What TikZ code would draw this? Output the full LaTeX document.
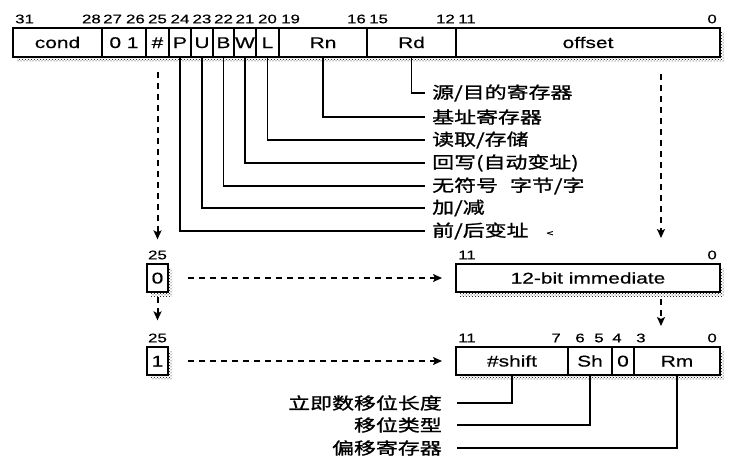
\documentclass[tikz,border=0pt]{standalone}
\usepackage{fontspec}
\setmainfont{Liberation Sans}[FakeStretch=1.35,FakeBold=0.4]
\newfontfamily\cjk{Noto Sans CJK SC}[FakeStretch=1.33,FakeBold=1.2]
\usetikzlibrary{arrows.meta,patterns,backgrounds}
\tikzset{
 fld/.style={draw, line width=1.4pt, fill=white, inner sep=0pt, outer sep=0pt,
   font=\fontsize{15.5}{15.5}\selectfont, text height=11pt, text depth=0pt, anchor=north west},
 bitnum/.style={inner sep=0pt, font=\fontsize{12.5}{12.5}\selectfont},
 lbl/.style={inner sep=0pt, font=\cjk\fontsize{16.5}{16.5}\selectfont},
 conn/.style={line width=1.4pt},
 dasharrow/.style={line width=2pt, dash pattern=on 6pt off 5pt,
   -{Stealth[length=9pt,width=8pt,inset=2pt]}},
 shadowfill/.style={pattern=crosshatch dots, pattern color=black},
}
\newcommand\fieldat[6]{\node[fld, minimum width={(#3-#2)*1pt}, minimum height={(#5-#4)*1pt}] (#1) at (#2,#4) {#6};}
\begin{document}
\begin{tikzpicture}[x=1pt,y=-1pt]
\useasboundingbox (0,0) rectangle (740,469);
% main register
\fieldat{cond}{13}{102}{28}{57}{cond}
\fieldat{zo}{102}{146}{28}{57}{0 1}
\fieldat{hash}{146}{169}{28}{57}{\#}
\fieldat{P}{169}{191}{28}{57}{P}
\fieldat{U}{191}{213}{28}{57}{U}
\fieldat{B}{213}{234}{28}{57}{B}
\fieldat{W}{234}{256}{28}{57}{W}
\fieldat{L}{256}{279}{28}{57}{L}
\fieldat{Rn}{279}{367}{28}{57}{Rn}
\fieldat{Rd}{367}{456}{28}{57}{Rd}
\fieldat{offset}{456}{720}{28}{57}{offset}
% bit numbers
\node[bitnum, anchor=west] (n31) at (15,19) {31};
\node[bitnum, anchor=east] (n28) at (101,19) {28};
\node[bitnum, anchor=west] (n27) at (103,19) {27};
\node[bitnum, anchor=east] (n26) at (145,19) {26};
\node[bitnum] (n25) at (157.5,19) {25};
\node[bitnum] (n24) at (180,19) {24};
\node[bitnum] (n23) at (202,19) {23};
\node[bitnum] (n22) at (223.5,19) {22};
\node[bitnum] (n21) at (245,19) {21};
\node[bitnum] (n20) at (267.5,19) {20};
\node[bitnum, anchor=west] (n19) at (281,19) {19};
\node[bitnum, anchor=east] (n16) at (366,19) {16};
\node[bitnum, anchor=west] (n15) at (369,19) {15};
\node[bitnum, anchor=east] (n12) at (455,19) {12};
\node[bitnum, anchor=west] (n11) at (458,19) {11};
\node[bitnum, anchor=east] (n0) at (717,19) {0};
% labels right
\node[lbl, anchor=west] (tRd) at (432,93) {源/目的寄存器};
\node[lbl, anchor=west] (tRn) at (432,117) {基址寄存器};
\node[lbl, anchor=west] (tL) at (432,140) {读取/存储};
\node[lbl, anchor=west] (tW) at (432,163) {回写(自动变址)};
\node[lbl, anchor=west] (tB) at (432,186) {无符号\hspace{12pt}字节/字};
\node[lbl, anchor=west] (tU) at (432,208) {加/减};
\node[lbl, anchor=west] (tP) at (432,231) {前/后变址\hspace{18pt}{\fontsize{9}{9}\selectfont <}};
\draw[conn] (Rd.south) |- ([xshift=-7pt]tRd.west);
\draw[conn] (Rn.south) |- ([xshift=-7pt]tRn.west);
\draw[conn] (L.south) |- ([xshift=-7pt]tL.west);
\draw[conn] (W.south) |- ([xshift=-7pt]tW.west);
\draw[conn] (B.south) |- ([xshift=-7pt]tB.west);
\draw[conn] (U.south) |- ([xshift=-7pt]tU.west);
\draw[conn] (P.south) |- ([xshift=-7pt]tP.west);
% immediate row
\fieldat{box0}{147}{168}{264}{292}{0}
\fieldat{imm}{456}{720}{264}{292}{12-bit immediate}
\node[bitnum] (n25a) at (157.5,255) {25};
\node[bitnum, anchor=west] (i11) at (458,255) {11};
\node[bitnum, anchor=east] (i0) at (717,255) {0};
% register row
\fieldat{box1}{147}{168}{347}{375}{1}
\fieldat{shift}{456}{568}{347}{375}{\#shift}
\fieldat{sh}{568}{612}{347}{375}{Sh}
\fieldat{zero}{612}{634}{347}{375}{0}
\fieldat{rm}{634}{720}{347}{375}{Rm}
\node[bitnum] (n25b) at (157.5,338) {25};
\node[bitnum, anchor=west] (r11) at (458,338) {11};
\node[bitnum, anchor=east] (r7) at (561,338) {7};
\node[bitnum] (r6) at (580,338) {6};
\node[bitnum] (r5) at (599,338) {5};
\node[bitnum] (r4) at (617,338) {4};
\node[bitnum, anchor=west] (r3) at (636,338) {3};
\node[bitnum, anchor=east] (r0) at (717,338) {0};
% bottom labels
\node[lbl, anchor=east] (tShift) at (442,403) {立即数移位长度};
\node[lbl, anchor=east] (tSh) at (442,425) {移位类型};
\node[lbl, anchor=east] (tRm) at (442,448) {偏移寄存器};
\draw[conn] (shift.south) |- ([xshift=15pt]tShift.east);
\draw[conn] (sh.south) |- ([xshift=15pt]tSh.east);
\draw[conn] (rm.south) |- ([xshift=15pt]tRm.east);
% dashed arrows
\coordinate (rt1) at (661,74);
\coordinate (rt2) at (661,238);
\coordinate (rt3) at (661,299);
\coordinate (rt4) at (661,326);
\draw[dasharrow] ([yshift=-15pt]hash.south) -- ([yshift=11pt]n25a.north);
\draw[dasharrow] ([yshift=-5pt]box0.south) -- ([yshift=13pt]n25b.north);
\draw[dasharrow] (rt1) -- (rt2);
\draw[dasharrow] (rt3) -- (rt4);
\draw[dasharrow] ([xshift=20pt]box0.east) -- ([xshift=-14pt]imm.west);
\draw[dasharrow] ([xshift=20pt]box1.east) -- ([xshift=-14pt]shift.west);
% shadows
\begin{scope}[on background layer]
\fill[white] (0,0) rectangle (740,469);
\fill[shadowfill] ([shift={(4pt,-4pt)}]cond.north west) rectangle ([shift={(4pt,-4pt)}]offset.south east);
\fill[shadowfill] ([shift={(4pt,-4pt)}]box0.north west) rectangle ([shift={(4pt,-4pt)}]box0.south east);
\fill[shadowfill] ([shift={(4pt,-4pt)}]imm.north west) rectangle ([shift={(4pt,-4pt)}]imm.south east);
\fill[shadowfill] ([shift={(4pt,-4pt)}]box1.north west) rectangle ([shift={(4pt,-4pt)}]box1.south east);
\fill[shadowfill] ([shift={(4pt,-4pt)}]shift.north west) rectangle ([shift={(4pt,-4pt)}]rm.south east);
\end{scope}
\end{tikzpicture}
\end{document}
